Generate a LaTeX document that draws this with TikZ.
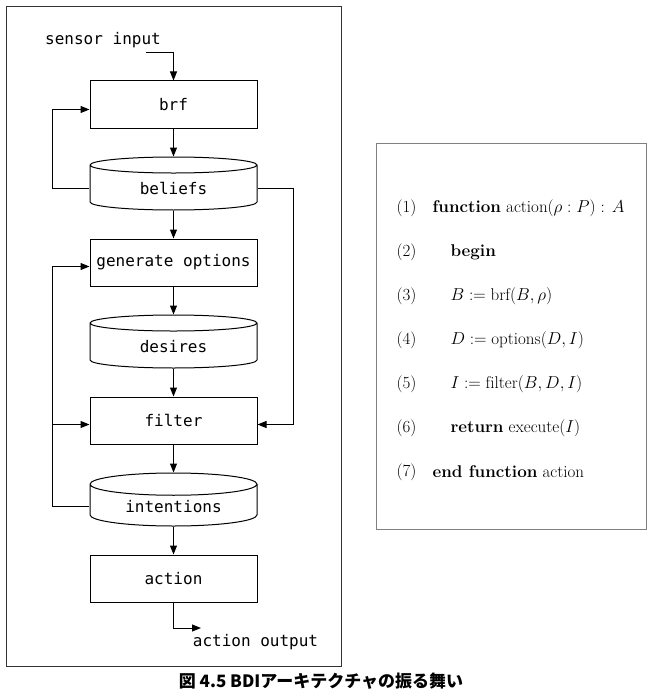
\documentclass[tikz,border=0pt]{standalone}
\usepackage{fontspec}
\usepackage{tikz}
\usetikzlibrary{arrows.meta,positioning,shapes.geometric}
\setmonofont{DejaVu Sans Mono}
\newfontfamily\jpfont{Noto Sans CJK JP}

\begin{document}
\begin{tikzpicture}[x=1pt,y=-1pt]
    \tikzset{every node/.style={font=\fontsize{16}{19}\selectfont\ttfamily}}
    \tikzset{proc/.style={draw,line width=1pt,minimum width=167pt,minimum height=47pt}}
    \tikzset{datastore/.style={draw,line width=1pt,cylinder,shape border rotate=90,aspect=0.216,minimum width=167pt,minimum height=53pt}}
    \tikzset{flow/.style={-{Triangle[length=9pt,width=7pt]},line width=1pt}}
    \tikzset{code/.style={anchor=west,font=\fontsize{17}{20}\selectfont\rmfamily}}
    \useasboundingbox (0,0) rectangle (648,690);
    % frames
    \draw[line width=1pt,black!80] (6.5,7) rectangle (341,666.5);
    \draw[line width=1pt,black!50] (376,143.5) rectangle (646,529.5);
    % left: the loop
    \node[proc] (brf) at (173.5,104.5) {brf};
    \node[datastore,below=28pt of brf] (beliefs) {beliefs};
    \node[proc,below=28pt of beliefs] (genopt) {generate options};
    \node[datastore,below=28pt of genopt] (desires) {desires};
    \node[proc,below=28pt of desires] (filter) {filter};
    \node[datastore,below=28pt of filter] (intentions) {intentions};
    \node[proc,below=28pt of intentions] (action) {action};
    \node (sensor) at (103,40) {sensor input};
    \node (actionout) at (255.5,642) {action output};
    \coordinate (sensorin) at (146,53);
    \coordinate (actout) at (201,628);
    \draw[flow] (sensorin) -| (brf.north);
    \draw[flow] (brf) -- (beliefs);
    \draw[flow] (beliefs) -- (genopt);
    \draw[flow] (genopt) -- (desires);
    \draw[flow] (desires) -- (filter);
    \draw[flow] (filter) -- (intentions);
    \draw[flow] (intentions) -- (action);
    \draw[flow] (action.south) |- (actout);
    \draw[flow] (beliefs.west) -- ++(-37,0) |- ([yshift=-5pt]brf.west);
    \draw[flow] (beliefs.east) -- ++(36,0) |- ([yshift=-4pt]filter.east);
    \draw[flow] (intentions.west) -- ++(-37,0) |- ([yshift=-4pt]genopt.west);
    \draw[flow] ([xshift=-37pt]intentions.west) |- ([yshift=-4pt]filter.west);
    % right: the program
    \node[code] (n1) at (393,208) {(1)};
    \node[code] (c1) at (429,208) {\textbf{function} action($\rho : P$) : $A$};
    \node[code] (n2) at (393,252) {(2)};
    \node[code] (c2) at (447,252) {\textbf{begin}};
    \node[code] (n3) at (393,296) {(3)};
    \node[code] (c3) at (447,296) {$B := \mathrm{brf}(B, \rho)$};
    \node[code] (n4) at (393,340) {(4)};
    \node[code] (c4) at (447,340) {$D := \mathrm{options}(D, I)$};
    \node[code] (n5) at (393,384) {(5)};
    \node[code] (c5) at (447,384) {$I := \mathrm{filter}(B, D, I)$};
    \node[code] (n6) at (393,428) {(6)};
    \node[code] (c6) at (447,428) {\textbf{return} execute($I$)};
    \node[code] (n7) at (393,472) {(7)};
    \node[code] (c7) at (429,472) {\textbf{end function} action};
    % caption
    \node[font=\jpfont\bfseries\fontsize{17}{20}\selectfont] (caption) at (321,681) {図 4.5 BDIアーキテクチャの振る舞い};
\end{tikzpicture}
\end{document}
